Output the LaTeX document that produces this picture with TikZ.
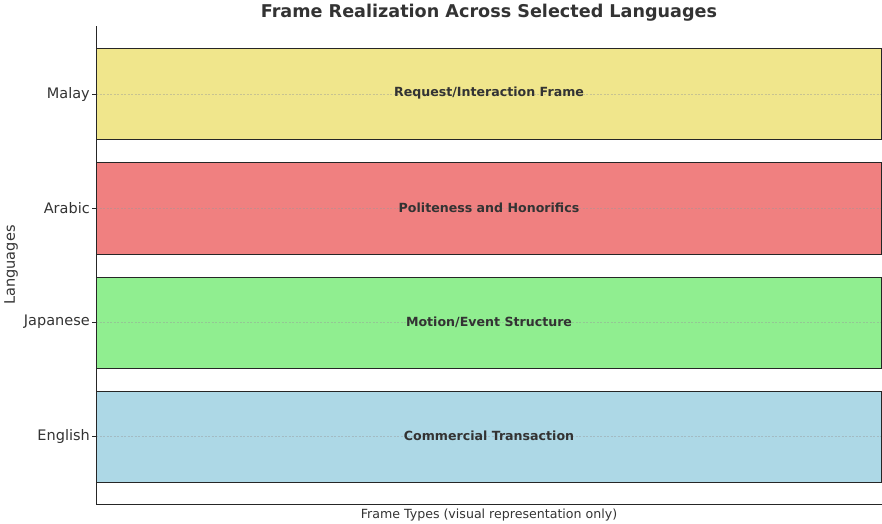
\documentclass[tikz,border=0pt]{standalone}
\usepackage{fontspec}
\setmainfont{DejaVu Sans}
\begin{document}
\begin{tikzpicture}[x=1pt,y=-1pt,
  txt/.style={text=black!80, inner sep=0pt},
  bar/.style={draw=black!85, line width=0.9pt},
  grid/.style={draw=black!40, draw opacity=0.45, line width=0.5pt, dash pattern=on 2pt off 1.5pt},
  ticklab/.style={txt, font=\fontsize{14.5}{16}\selectfont, anchor=east},
  barlab/.style={txt, font=\bfseries\fontsize{12.6}{14}\selectfont}
]
\useasboundingbox (0,0) rectangle (882,523);
\definecolor{khakiC}{HTML}{F0E68C}
\definecolor{coralC}{HTML}{F08080}
\definecolor{greenC}{HTML}{90EE90}
\definecolor{blueC}{HTML}{ADD8E6}

% bars
\fill[khakiC] (96,48) rectangle (881,139);
\fill[coralC] (96,162) rectangle (881,254);
\fill[greenC] (96,277) rectangle (881,368);
\fill[blueC] (96,391) rectangle (881,482);

% horizontal grid lines at tick positions
\foreach \yy in {94,208,322,436} \draw[grid] (96,\yy) -- (881,\yy);

% bar outlines
\draw[bar] (96,48) rectangle (881,139);
\draw[bar] (96,162) rectangle (881,254);
\draw[bar] (96,277) rectangle (881,368);
\draw[bar] (96,391) rectangle (881,482);

% axes spines
\draw[black!85, line width=0.9pt] (96,26) -- (96,504) -- (882,504);

% ticks and labels
\foreach \yy/\lab/\nm in {94/Malay/tm,208/Arabic/ta,322/Japanese/tj,436/English/te} {
  \draw[black!85, line width=0.8pt] (96,\yy) -- (92,\yy);
  \node[ticklab] (\nm) at (90,\yy) {\lab};
}

% frame labels
\node[barlab] (lm) at (489,93) {Request/Interaction Frame};
\node[barlab] (la) at (489,208) {Politeness and Honorifics};
\node[barlab] (lj) at (489,322) {Motion/Event Structure};
\node[barlab] (le) at (489,436) {Commercial Transaction};

% titles
\node[txt, font=\bfseries\fontsize{17.6}{20}\selectfont] (title) at (489,13) {Frame Realization Across Selected Languages};
\node[txt, font=\fontsize{12.6}{14}\selectfont] (xlab) at (489,515) {Frame Types (visual representation only)};
\node[txt, font=\fontsize{14.5}{16}\selectfont, rotate=90] (ylab) at (11,265) {Languages};
\end{tikzpicture}
\end{document}
